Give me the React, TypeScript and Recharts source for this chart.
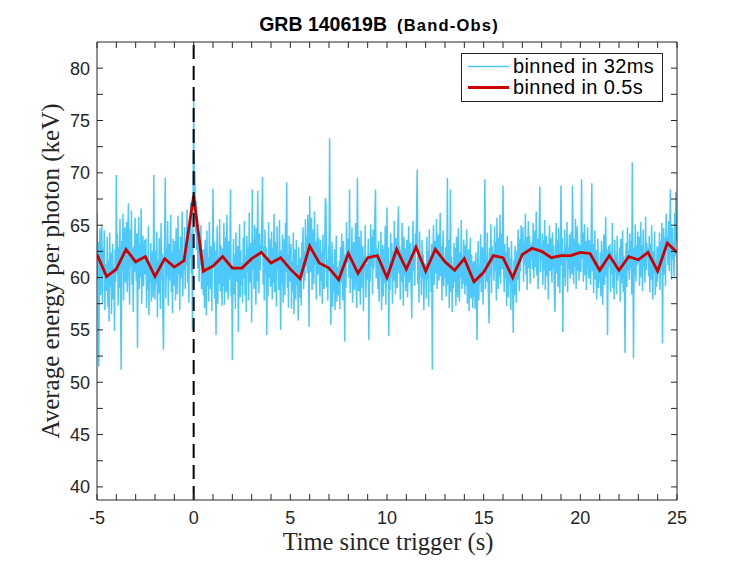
import { LineChart, Line, XAxis, YAxis, ReferenceLine, Legend, Label } from "recharts";

// 32 ms light curve, one row per 0.5 s starting at t = -5 s
const fine = [
  66.2, 59.8, 63.4, 51.5, 62.1, 64.7, 58.3, 61.9, 65.0, 57.6, 62.8, 60.2, 64.5, 56.9, 61.3, 59.4,
  58.7, 63.9, 57.2, 61.6, 55.8, 64.3, 59.1, 62.4, 56.5, 60.8, 63.2, 57.9, 61.0, 54.9, 62.7, 59.6,
  69.8, 60.4, 64.1, 57.3, 62.9, 59.0, 65.6, 58.2, 51.2, 63.5, 60.7, 66.1, 57.8, 62.2, 64.8, 59.5,
  61.8, 65.3, 58.6, 63.9, 67.1, 60.2, 57.4, 64.6, 61.1, 66.4, 59.3, 62.8, 56.7, 63.0, 60.5, 65.7,
  62.4, 59.7, 64.2, 53.3, 61.5, 65.8, 58.9, 63.1, 60.0, 66.6, 57.5, 62.7, 64.0, 59.2, 61.9, 63.6,
  60.3, 63.7, 57.1, 62.0, 58.8, 64.9, 56.4, 61.4, 59.6, 63.3, 57.7, 62.5, 60.9, 58.1, 69.8, 61.2,
  57.9, 62.6, 59.4, 64.4, 56.2, 61.7, 58.5, 63.8, 60.6, 57.0, 65.2, 59.8, 62.3, 56.8, 53.1, 60.4,
  64.1, 69.5, 58.0, 62.9, 60.1, 65.4, 57.3, 63.2, 59.7, 61.8, 66.0, 58.6, 62.4, 56.6, 63.7, 60.8,
  59.2, 63.5, 57.8, 64.7, 61.0, 58.4, 65.9, 60.3, 62.7, 56.9, 63.9, 59.9, 61.6, 66.3, 58.2, 62.1,
  60.7, 64.8, 58.9, 63.3, 61.2, 66.5, 59.5, 63.8, 57.6, 65.1, 62.0, 67.2, 60.4, 64.2, 55.0, 66.8,
  77.0, 66.4, 70.1, 64.2, 67.3, 62.6, 65.8, 60.9, 64.5, 59.6, 63.1, 61.2, 65.0, 58.9, 62.7, 60.4,
  58.3, 62.7, 57.1, 63.6, 60.0, 56.4, 64.5, 59.2, 61.9, 57.7, 65.3, 60.5, 58.9, 63.0, 56.8, 62.2,
  68.5, 60.9, 63.4, 58.0, 62.6, 54.5, 61.3, 64.9, 57.5, 62.0, 59.4, 65.6, 58.7, 63.1, 60.2, 57.3,
  62.8, 59.1, 65.2, 57.4, 61.7, 63.9, 58.6, 66.0, 60.3, 57.9, 63.5, 59.8, 62.4, 68.4, 58.2, 61.1,
  52.1, 60.6, 63.7, 58.4, 62.2, 57.0, 64.3, 59.6, 61.5, 63.0, 54.8, 60.9, 65.1, 58.1, 62.6, 59.3,
  61.4, 57.6, 63.8, 59.9, 65.4, 58.3, 62.1, 56.7, 64.0, 60.5, 62.9, 57.8, 66.2, 59.5, 61.7, 63.3,
  55.7, 68.4, 60.8, 63.6, 58.9, 65.0, 61.3, 57.4, 64.7, 59.6, 68.3, 62.0, 58.5, 64.2, 60.7, 63.1,
  62.5, 65.8, 69.6, 59.3, 63.0, 57.8, 64.6, 60.4, 62.9, 54.5, 61.6, 58.2, 65.3, 60.0, 63.7, 59.1,
  60.2, 64.4, 57.9, 62.8, 59.5, 66.1, 58.6, 63.4, 61.0, 57.2, 64.9, 60.7, 62.3, 58.8, 65.5, 60.1,
  55.0, 62.6, 59.4, 64.1, 57.6, 61.8, 63.7, 58.3, 65.2, 60.5, 69.1, 59.0, 62.2, 57.1, 64.0, 60.9,
  59.6, 63.2, 57.0, 61.5, 58.7, 64.3, 56.5, 60.8, 62.7, 57.9, 63.6, 59.3, 61.2, 55.9, 62.9, 58.4,
  58.1, 61.9, 57.3, 63.4, 60.0, 64.8, 58.9, 62.5, 59.7, 65.6, 61.1, 63.9, 60.4, 66.0, 62.3, 55.3,
  67.8, 63.1, 60.5, 65.7, 58.8, 62.9, 64.6, 59.4, 66.3, 61.2, 63.5, 57.9, 62.0, 65.1, 60.3, 63.8,
  61.0, 58.2, 63.6, 59.7, 62.4, 57.5, 64.1, 60.3, 58.9, 62.8, 67.6, 66.9, 59.1, 61.7, 57.8, 63.0,
  60.6, 73.3, 62.1, 55.5, 59.8, 63.4, 57.2, 61.3, 58.6, 62.7, 56.9, 60.2, 64.0, 57.7, 61.0, 59.1,
  58.3, 61.6, 57.0, 62.9, 59.5, 64.2, 60.1, 57.8, 63.5, 60.7, 53.9, 62.2, 59.0, 65.3, 61.4, 63.0,
  63.7, 60.0, 68.4, 58.5, 62.6, 59.9, 64.8, 57.6, 61.9, 63.4, 58.8, 60.9, 65.2, 59.3, 57.1, 69.5,
  62.4, 58.7, 63.9, 60.2, 57.4, 64.5, 59.0, 61.8, 63.0, 56.8, 62.1, 60.6, 65.0, 58.1, 61.3, 59.8,
  60.5, 63.7, 54.0, 62.3, 59.6, 65.1, 61.0, 63.9, 58.4, 64.6, 60.8, 62.5, 66.0, 68.4, 59.9, 62.8,
  61.8, 58.9, 63.5, 57.7, 62.2, 60.1, 64.4, 56.9, 61.0, 63.1, 58.2, 62.7, 59.5, 64.9, 57.4, 60.6,
  66.7, 60.3, 62.9, 54.4, 61.6, 58.8, 64.2, 60.0, 63.3, 57.5, 62.5, 59.7, 65.4, 61.2, 58.4, 63.8,
  62.1, 59.0, 64.7, 66.8, 60.4, 63.0, 57.9, 62.6, 59.6, 65.2, 61.0, 57.3, 63.9, 60.2, 62.8, 58.7,
  60.9, 63.6, 58.1, 62.4, 64.9, 59.5, 61.7, 63.3, 58.9, 56.1, 62.0, 65.4, 60.6, 63.1, 59.2, 64.2,
  63.0, 66.1, 70.3, 59.4, 62.7, 57.6, 64.4, 60.1, 61.8, 58.3, 63.6, 59.9, 62.2, 56.9, 61.4, 60.0,
  61.3, 58.0, 63.9, 59.8, 62.5, 57.2, 64.6, 60.7, 62.0, 58.6, 63.2, 51.2, 61.9, 65.0, 59.3, 62.8,
  63.5, 60.4, 65.6, 58.9, 62.2, 64.1, 59.7, 61.6, 66.2, 60.1, 63.0, 57.8, 62.7, 64.5, 59.2, 61.9,
  60.0, 62.9, 58.2, 61.5, 69.5, 59.3, 63.6, 57.1, 60.8, 68.4, 58.6, 62.0, 56.7, 61.2, 59.0, 63.3,
  59.6, 62.8, 57.3, 63.9, 60.5, 58.1, 64.7, 61.0, 57.7, 62.4, 60.0, 65.5, 58.9, 62.1, 59.4, 63.6,
  61.9, 58.4, 63.1, 59.2, 64.6, 57.5, 61.3, 62.7, 56.8, 60.6, 63.8, 58.0, 62.2, 59.7, 57.1, 61.5,
  58.2, 61.6, 57.0, 62.4, 59.1, 54.0, 60.8, 63.5, 57.8, 61.2, 59.5, 64.1, 58.6, 60.3, 62.9, 57.4,
  60.7, 63.4, 69.4, 58.9, 62.1, 59.6, 64.3, 61.0, 57.9, 55.6, 62.8, 60.2, 65.1, 58.5, 63.0, 61.4,
  62.3, 59.7, 64.9, 60.6, 63.4, 57.8, 65.7, 61.2, 58.9, 63.8, 60.1, 66.0, 59.4, 62.6, 64.2, 60.8,
  68.8, 61.5, 58.6, 63.2, 59.9, 62.4, 57.3, 64.0, 60.2, 58.1, 62.9, 59.5, 61.8, 56.9, 63.5, 60.3,
  59.0, 54.7, 61.7, 58.3, 63.0, 60.4, 57.6, 62.5, 59.8, 64.6, 61.1, 58.7, 63.7, 60.6, 65.0, 62.2,
  62.0, 64.8, 59.6, 63.5, 61.2, 66.1, 60.3, 63.9, 58.8, 62.7, 65.4, 60.9, 64.0, 59.4, 63.1, 61.8,
  63.4, 60.8, 65.2, 59.9, 62.6, 64.5, 61.0, 66.3, 60.2, 63.7, 58.9, 62.1, 64.9, 68.7, 60.5, 63.0,
  61.6, 64.2, 59.3, 63.6, 60.7, 65.5, 58.8, 62.9, 64.0, 60.1, 63.2, 57.9, 62.4, 65.0, 60.6, 63.8,
  62.7, 59.5, 64.3, 60.9, 63.1, 58.7, 56.7, 62.0, 65.2, 60.4, 63.6, 59.1, 64.7, 61.3, 58.5, 63.0,
  68.8, 61.2, 63.8, 54.8, 62.5, 60.0, 64.6, 59.2, 63.0, 61.7, 65.3, 58.6, 62.9, 60.8, 64.1, 59.9,
  61.9, 64.4, 60.3, 68.8, 62.1, 59.4, 63.7, 61.0, 65.6, 58.9, 62.8, 64.9, 60.6, 63.3, 59.7, 62.4,
  63.1, 60.5, 69.4, 61.8, 64.3, 59.6, 62.7, 65.1, 60.2, 63.5, 58.8, 62.0, 64.8, 61.4, 59.9, 63.6,
  62.2, 59.3, 64.0, 69.0, 60.6, 63.2, 58.5, 61.9, 64.5, 59.8, 62.6, 57.9, 61.3, 63.7, 59.0, 60.8,
  59.7, 62.4, 58.2, 63.5, 60.8, 57.4, 62.0, 64.1, 59.3, 61.6, 65.8, 60.1, 62.7, 54.5, 61.2, 63.0,
  61.0, 63.2, 58.6, 62.5, 60.3, 65.2, 59.0, 61.8, 57.9, 63.6, 60.5, 62.2, 58.4, 64.0, 59.7, 61.5,
  60.2, 62.9, 57.7, 63.7, 59.4, 61.8, 64.5, 58.6, 62.1, 60.0, 52.8, 61.4, 63.3, 59.1, 64.8, 60.7,
  62.6, 59.8, 64.2, 60.9, 63.5, 58.4, 71.0, 61.7, 52.3, 62.8, 60.3, 65.1, 59.6, 63.0, 61.2, 64.4,
  61.4, 63.9, 59.2, 62.6, 65.3, 60.0, 63.1, 58.7, 64.6, 61.0, 62.4, 59.5, 65.8, 60.7, 63.3, 61.9,
  62.8, 60.1, 64.0, 58.6, 63.2, 59.8, 65.0, 61.3, 57.9, 62.5, 60.4, 64.4, 58.3, 61.7, 59.1, 63.0,
  59.6, 62.9, 61.1, 64.3, 58.8, 63.5, 60.7, 65.2, 53.7, 62.0, 64.7, 60.3, 63.8, 59.2, 66.1, 62.6,
  63.9, 61.2, 65.4, 60.6, 64.1, 68.4, 62.3, 59.8, 64.8, 61.7, 63.4, 60.1, 66.2, 62.0, 68.2, 63.5,
];

// 0.5 s bins, t = -5 ... 25
const coarse = [
  62.2, 60.1, 60.8, 62.7, 61.5, 62.0, 60.1, 61.8, 61.0, 61.6,
  67.8, 60.6, 61.1, 62.0, 60.9, 60.9, 61.8, 62.4, 61.4, 61.9,
  60.8, 59.9, 63.0, 61.4, 60.9, 59.8, 62.3, 60.4, 61.9, 62.1,
  60.0, 62.7, 60.8, 62.9, 60.6, 62.7, 61.5, 60.7, 61.8, 59.6,
  60.5, 62.1, 61.9, 60.0, 62.2, 62.8, 62.5, 61.9, 62.1, 62.1,
  62.4, 62.3, 60.7, 62.1, 60.7, 62.0, 61.7, 62.4, 60.6, 63.3,
  62.4,
];

const seriesNames = ["binned in 32ms", "binned in 0.5s"];

const xTicks = [
  -5, -4, -3, -2, -1, 0, 1, 2, 3, 4, 5, 6, 7, 8, 9, 10, 11, 12, 13, 14, 15,
  16, 17, 18, 19, 20, 21, 22, 23, 24, 25,
];
const yTicks = [40, 42.5, 45, 47.5, 50, 52.5, 55, 57.5, 60, 62.5, 65, 67.5, 70, 72.5, 75, 77.5, 80];

const fineData = fine.map((v, i) => ({ t: -5 + i / 32, v }));
const coarseData = coarse.map((v, i) => ({ t: -5 + i * 0.5, v }));

const AXIS = "#262626";
const BLUE = "#4dc8fa";
const RED = "#cc0000";
const SANS = "Liberation Sans, Arial, sans-serif";
const SERIF = "Liberation Serif, Times New Roman, serif";

const major = (v: number) => (v % 5 === 0 ? String(v) : "");
const blank = () => "";

function LegendBox(props: any) {
  const items = (props.payload || [])
    .filter((it: any) => seriesNames.includes(it.value))
    .sort((a: any, b: any) => seriesNames.indexOf(a.value) - seriesNames.indexOf(b.value));
  return (
    <svg width={202} height={49} style={{ display: "block" }}>
      <rect x={0.5} y={0.5} width={201} height={48} fill="#fff" stroke={AXIS} strokeWidth={1} />
      {items.map((it: any, i: number) => (
        <g key={it.value}>
          <line
            x1={7}
            x2={48}
            y1={13.5 + i * 21}
            y2={13.5 + i * 21}
            stroke={it.color}
            strokeWidth={i === 0 ? 1.4 : 2.8}
          />
          <text x={52} y={20 + i * 20.7} fontFamily={SANS} fontSize={20} letterSpacing={0.4} fill="#000">
            {it.value}
          </text>
        </g>
      ))}
    </svg>
  );
}

export default function App() {
  return (
    <div style={{ position: "absolute", left: 0, top: 0, background: "#fff" }}>
      <LineChart width={747} height={561} margin={{ top: 41, right: 69, bottom: 0, left: 37 }}>
        <XAxis
          dataKey="t"
          type="number"
          domain={[-5, 25]}
          ticks={xTicks}
          interval={0}
          allowDataOverflow
          height={61}
          stroke={AXIS}
          tickSize={-6}
          tickMargin={17}
          tickFormatter={major}
          tick={{ fill: AXIS, fontFamily: SANS, fontSize: 18 }}
        >
          <Label
            content={(p: any) => (
              <text
                x={p.viewBox.x + p.viewBox.width / 2 + 1}
                y={550}
                textAnchor="middle"
                fontFamily={SERIF}
                fontSize={24.5}
                fill={AXIS}
              >
                Time since trigger (s)
              </text>
            )}
          />
        </XAxis>
        <XAxis
          xAxisId="top"
          dataKey="t"
          orientation="top"
          type="number"
          domain={[-5, 25]}
          ticks={xTicks}
          interval={0}
          allowDataOverflow
          height={1}
          stroke={AXIS}
          tickSize={-6}
          tickFormatter={blank}
        >
          <Label
            content={(p: any) => (
              <text
                x={p.viewBox.x + p.viewBox.width / 2 - 8}
                y={30.5}
                textAnchor="middle"
                fontFamily={SANS}
                fontWeight="bold"
                fill="#000"
              >
                <tspan fontSize={19.5}>GRB 140619B</tspan>
                <tspan fontSize={16.5} dx={10} letterSpacing={1.2}>
                  (Band-Obs)
                </tspan>
              </text>
            )}
          />
        </XAxis>
        <YAxis
          type="number"
          domain={[38.75, 82.5]}
          ticks={yTicks}
          interval={0}
          allowDataOverflow
          width={60}
          stroke={AXIS}
          tickSize={-6}
          tickMargin={13}
          tickFormatter={major}
          tick={{ fill: AXIS, fontFamily: SANS, fontSize: 18 }}
        >
          <Label
            content={(p: any) => (
              <text
                x={59}
                y={p.viewBox.y + p.viewBox.height / 2}
                transform={`rotate(-90 59 ${p.viewBox.y + p.viewBox.height / 2})`}
                textAnchor="middle"
                fontFamily={SERIF}
                fontSize={25}
                fill={AXIS}
              >
                Average energy per photon (keV)
              </text>
            )}
          />
        </YAxis>
        <YAxis
          yAxisId="right"
          orientation="right"
          type="number"
          domain={[38.75, 82.5]}
          ticks={yTicks}
          interval={0}
          allowDataOverflow
          width={1}
          stroke={AXIS}
          tickSize={-6}
          tickFormatter={blank}
        />
        <Legend
          layout="horizontal"
          align="center"
          verticalAlign="middle"
          content={<LegendBox />}
          wrapperStyle={{ left: 461, top: 53, width: 202, height: 49 }}
        />
        {/* invisible series so the top and right axes (the box) are drawn */}
        <Line
          data={coarseData}
          dataKey="v"
          xAxisId="top"
          yAxisId="right"
          stroke="none"
          legendType="none"
          dot={false}
          activeDot={false}
          isAnimationActive={false}
        />
        <Line
          data={fineData}
          dataKey="v"
          name={seriesNames[0]}
          type="linear"
          stroke={BLUE}
          strokeWidth={1.5}
          dot={false}
          activeDot={false}
          isAnimationActive={false}
        />
        <Line
          data={coarseData}
          dataKey="v"
          name={seriesNames[1]}
          type="linear"
          stroke={RED}
          strokeWidth={2.8}
          dot={false}
          activeDot={false}
          isAnimationActive={false}
        />
        <ReferenceLine x={0} stroke="#000" strokeWidth={2} strokeDasharray="14 7" />
      </LineChart>
    </div>
  );
}
